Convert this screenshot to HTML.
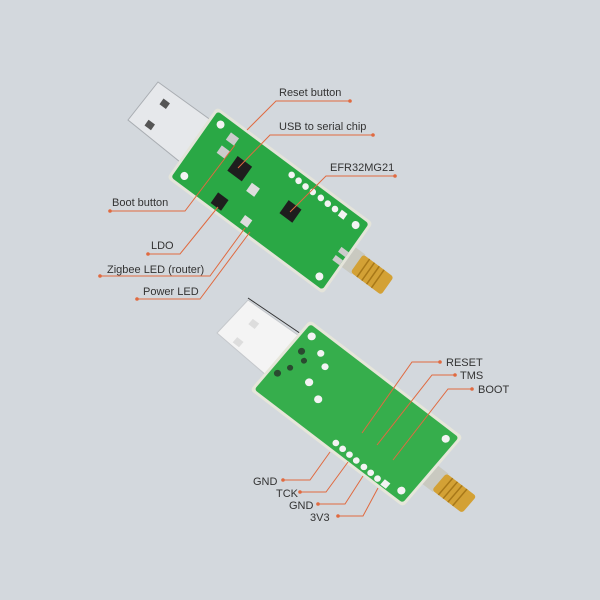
<!DOCTYPE html>
<html><head><style>
html,body{margin:0;padding:0;background:#d3d8dd;}
svg{display:block}
text{font-family:"Liberation Sans",sans-serif;font-size:11px;fill:#333;}
</style></head><body>
<svg width="600" height="600" viewBox="0 0 600 600" xmlns="http://www.w3.org/2000/svg">
<rect width="600" height="600" fill="#d3d8dd"/>
<!-- top board USB -->
<polygon points="158,82 219,126 190,170 128,120" fill="#e6e8eb" stroke="#a9adb2" stroke-width="1"/>
<g transform="matrix(0.804,0.598,-0.575,0.816,158,82)">
  <rect x="14" y="10" width="8" height="7" fill="#555"/>
  <rect x="14" y="36" width="8" height="7" fill="#555"/>
</g>
<g transform="matrix(0.804,0.598,-0.575,0.816,217,107)">
  <rect x="188" y="30" width="18" height="24" fill="#c9c9c0"/>
  <rect x="204" y="31" width="38" height="22" rx="3" fill="#d3a135"/>
  <g stroke="#a87818" stroke-width="1.5"><line x1="212" y1="31" x2="212" y2="53"/><line x1="218" y1="31" x2="218" y2="53"/><line x1="224" y1="31" x2="224" y2="53"/><line x1="230" y1="31" x2="230" y2="53"/></g>
  <rect x="0" y="0" width="194" height="87" rx="4" fill="#e4e4da"/>
  <rect x="3" y="3" width="188" height="81" rx="3" fill="#2aa845"/>
  <rect x="45" y="27" width="18" height="18" fill="#1e1e1e"/>
  <rect x="112" y="32" width="16" height="16" fill="#1e1e1e"/>
  <rect x="50" y="68" width="13" height="13" fill="#1e1e1e"/>
  <rect x="72" y="40" width="10" height="10" fill="#ddd"/>
  <rect x="85" y="70" width="9" height="9" fill="#ddd"/>
  <rect x="26" y="12" width="10" height="9" fill="#ccc"/>
  <rect x="26" y="28" width="10" height="9" fill="#ccc"/>
  <rect x="182" y="38" width="9" height="6" fill="#ccc"/>
  <rect x="182" y="48" width="9" height="6" fill="#ccc"/>
  <g fill="#f3f3f3"><circle cx="100" cy="10" r="3.3"/><circle cx="109" cy="10.5" r="3.3"/><circle cx="118" cy="11" r="3.3"/><circle cx="127" cy="11" r="3.3"/><circle cx="137" cy="11" r="3.3"/><circle cx="146" cy="11.5" r="3.3"/><circle cx="155" cy="11.5" r="3.3"/><rect x="161" y="8" width="7" height="7"/>
  <circle cx="13" cy="12" r="4"/><circle cx="13" cy="75" r="4"/><circle cx="181" cy="12" r="4"/><circle cx="181" cy="75" r="4"/></g>
</g>
<!-- bottom board USB -->
<polygon points="248,300 312,345 281,388 217,333" fill="#f4f4f4" stroke="#c5c8cc" stroke-width="1"/>
<line x1="248" y1="298" x2="310" y2="340" stroke="#333" stroke-width="1"/>
<g transform="matrix(0.793,0.606,-0.652,0.761,248,300)">
  <rect x="16" y="12" width="8" height="7" fill="#ddd"/>
  <rect x="16" y="36" width="8" height="7" fill="#ddd"/>
</g>
<g transform="matrix(0.793,0.606,-0.652,0.761,310,320)">
  <rect x="188" y="38" width="18" height="24" fill="#c9c9c0"/>
  <rect x="204" y="39" width="38" height="22" rx="3" fill="#d3a135"/>
  <g stroke="#a87818" stroke-width="1.5"><line x1="212" y1="39" x2="212" y2="61"/><line x1="218" y1="39" x2="218" y2="61"/><line x1="224" y1="39" x2="224" y2="61"/><line x1="230" y1="39" x2="230" y2="61"/></g>
  <rect x="0" y="0" width="193" height="92" rx="4" fill="#e6e6da"/>
  <rect x="3" y="3" width="187" height="86" rx="3" fill="#36ae4c"/>
  <g fill="#f3f3f3"><circle cx="100" cy="82" r="3.3"/><circle cx="109" cy="82.5" r="3.3"/><circle cx="118" cy="83" r="3.3"/><circle cx="127" cy="83.5" r="3.3"/><circle cx="137" cy="84" r="3.3"/><circle cx="146" cy="84.5" r="3.3"/><circle cx="155" cy="85" r="3.3"/><rect x="161" y="81" width="7" height="7"/>
  <circle cx="12" cy="12" r="4"/><circle cx="181" cy="12" r="4"/><circle cx="181" cy="80" r="4"/><circle cx="30" cy="20" r="3.5"/><circle cx="42" cy="28" r="3.5"/><circle cx="40" cy="50" r="4"/><circle cx="58" cy="58" r="4"/></g>
  <g fill="#2a4a30"><circle cx="14" cy="30" r="3.5"/><circle cx="22" cy="36" r="3"/><circle cx="16" cy="50" r="3"/><circle cx="10" cy="62" r="3.5"/></g>
</g>
<!-- leaders -->
<g stroke="#e06a40" stroke-width="1" fill="none">
  <polyline points="350,101 276,101 247,130"/>
  <polyline points="373,135 270,135 238,168"/>
  <polyline points="395,176 326,176 290,212"/>
  <polyline points="110,211 185,211 235,145"/>
  <polyline points="148,254 180,254 218,207"/>
  <polyline points="100,276 210,276 245,228"/>
  <polyline points="137,299 200,299 250,232"/>
  <polyline points="440,362 412,362 362,433"/>
  <polyline points="455,375 432,375 377,445"/>
  <polyline points="472,389 448,389 393,460"/>
  <polyline points="283,480 310,480 330,452"/>
  <polyline points="300,492 326,492 348,462"/>
  <polyline points="318,504 345,504 363,476"/>
  <polyline points="338,516 363,516 378,488"/>
</g>
<g fill="#e06a40">
  <circle cx="350" cy="101" r="1.8"/><circle cx="373" cy="135" r="1.8"/><circle cx="395" cy="176" r="1.8"/><circle cx="110" cy="211" r="1.8"/><circle cx="148" cy="254" r="1.8"/><circle cx="100" cy="276" r="1.8"/><circle cx="137" cy="299" r="1.8"/>
  <circle cx="440" cy="362" r="1.8"/><circle cx="455" cy="375" r="1.8"/><circle cx="472" cy="389" r="1.8"/><circle cx="283" cy="480" r="1.8"/><circle cx="300" cy="492" r="1.8"/><circle cx="318" cy="504" r="1.8"/><circle cx="338" cy="516" r="1.8"/>
</g>
<text x="279" y="96">Reset button</text>
<text x="279" y="130">USB to serial chip</text>
<text x="330" y="171">EFR32MG21</text>
<text x="112" y="206">Boot button</text>
<text x="151" y="249">LDO</text>
<text x="107" y="273">Zigbee LED (router)</text>
<text x="143" y="295">Power LED</text>
<text x="446" y="366">RESET</text>
<text x="460" y="379">TMS</text>
<text x="478" y="393">BOOT</text>
<text x="253" y="485">GND</text>
<text x="276" y="497">TCK</text>
<text x="289" y="509">GND</text>
<text x="310" y="521">3V3</text>
</svg>
</body></html>
